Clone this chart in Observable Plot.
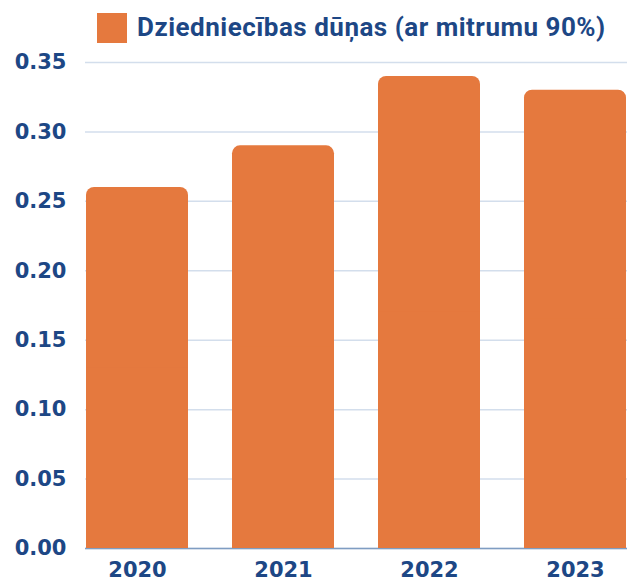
<!DOCTYPE html>
<html>
<head>
<meta charset="utf-8">
<script src="https://cdn.jsdelivr.net/npm/d3@7"></script>
<script src="https://cdn.jsdelivr.net/npm/@observablehq/plot@0.6"></script>
<style>
  html, body { margin: 0; padding: 0; background: #fff; overflow: hidden; }
  #legend { height: 44px; position: relative; font-family: Roboto, "Noto Sans", sans-serif; font-weight: 700;
    font-size: 26px; letter-spacing: 0.5px; color: #1d4785; }
  #legend .sw { position: absolute; left: 97px; top: 13px; width: 30px; height: 30px; background: #E5793E; }
  #legend .tx { position: absolute; left: 137px; top: 11px; line-height: 32px; white-space: nowrap; }
</style>
</head>
<body>
<div id="legend"><span class="sw"></span><span class="tx">Dziedniecības dūņas (ar mitrumu 90%)</span></div>
<div id="chart"></div>
<script>
const years = ["2020", "2021", "2022", "2023"];
const values = [0.26, 0.29, 0.34, 0.33];
const yTicks = [0, 0.05, 0.10, 0.15, 0.20, 0.25, 0.30, 0.35];
const seriesName = "Dziedniecības dūņas (ar mitrumu 90%)";

const data = years.map((y, i) => ({year: y, value: values[i]}));
const orange = "#E5793E";

const chart = Plot.plot({
  width: 627,
  height: 538,
  marginTop: 18,
  marginBottom: 34,
  marginLeft: 85,
  marginRight: 0,
  style: {fontFamily: "'DejaVu Sans', sans-serif", fontWeight: 700, fontSize: "21px", color: "#1d4785", background: "#fff", overflow: "visible"},
  x: {domain: years, paddingInner: 0.3, paddingOuter: 0, label: null, tickSize: 0, tickPadding: 14},
  y: {domain: [0, 0.35], ticks: yTicks, tickFormat: d3.format(".2f"), label: null, tickSize: 0, tickPadding: 19},
  marks: [
    Plot.gridY(yTicks, {stroke: "#d3deec", strokeOpacity: 1, strokeWidth: 1.5}),
    Plot.ruleY([0], {stroke: "#7f9dc2", strokeWidth: 1.5}),
    Plot.barY(data, {x: "year", y: "value", fill: orange, rx: 8}),
    Plot.barY(data, {x: "year", y1: 0, y2: d => d.value / 2, fill: orange})
  ]
});
document.getElementById("chart").appendChild(chart);
</script>
</body>
</html>
